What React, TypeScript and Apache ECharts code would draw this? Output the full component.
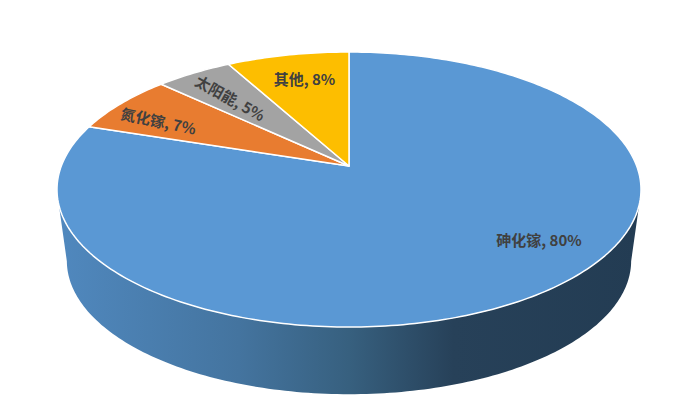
import React, { useEffect, useRef } from "react";
import * as echarts from "echarts";

const names = ["砷化镓", "氮化镓", "太阳能", "其他"];
const values = [80, 7, 5, 8];
const colors = ["#5a98d4", "#e87c30", "#a3a3a3", "#fdbe00"];

// On-screen projection of the tilted disc (perspective view of a circle)
const CX = 349;
const TILT = 0.171;
const TOP = { y0: 166, a: 287.7, b: 133.5 };
const BASE = { y0: 238, a: 278, b: 129.5 };
const FRONT_V = -0.28;
const BASE_EDGE = 100;

const labelLayout = [
  { x: 539, y: 239.5, rot: 0 },
  { x: 158.5, y: 120.5, rot: 12 },
  { x: 230.5, y: 97.5, rot: 29 },
  { x: 304.5, y: 78, rot: 0 },
];

const project = (p: { y0: number; a: number; b: number }, deg: number) => {
  const t = (deg * Math.PI) / 180;
  const u = Math.sin(t);
  const v = Math.cos(t);
  const w = 1 + TILT * v;
  return [CX + (p.a * u) / w, p.y0 - (p.b * v) / w];
};

const rim = (p: typeof TOP, from: number, to: number) => {
  const n = Math.max(2, Math.ceil(Math.abs(to - from)));
  const pts: number[][] = [];
  for (let i = 0; i <= n; i++) pts.push(project(p, from + ((to - from) * i) / n));
  return pts;
};

const total = values.reduce((a, b) => a + b, 0);
const starts = values.map((_, i) => values.slice(0, i).reduce((a, b) => a + b, 0));
const seriesData = values.map((v, i) => [v, starts[i]]);

const frontEdge = (Math.acos(FRONT_V) * 180) / Math.PI;

const renderWall = (_params: any, api: any) => {
  const value = api.value(0);
  const start = api.value(1);
  const a0 = (start / total) * 360;
  const a1 = ((start + value) / total) * 360;
  const from = Math.max(a0, frontEdge);
  const to = Math.min(a1, 360 - frontEdge);
  if (to <= from) return { type: "group", children: [] };
  const baseFrom = Math.max(a0, BASE_EDGE);
  const baseTo = Math.min(a1, 360 - BASE_EDGE);
  const points = [...rim(TOP, from, to), ...rim(BASE, baseTo, baseFrom)];
  return {
    type: "polygon",
    shape: { points },
    style: {
      fill: new echarts.graphic.LinearGradient(0, 0, 1, 0, [
        { offset: 0, color: "#5088be" },
        { offset: 0.31, color: "#44749f" },
        { offset: 0.5, color: "#37607f" },
        { offset: 0.68, color: "#274159" },
        { offset: 1, color: "#233c53" },
      ]),
    },
  };
};

const renderTop = (params: any, api: any) => {
  const i = params.dataIndex;
  const value = api.value(0);
  const start = api.value(1);
  const a0 = (start / total) * 360;
  const a1 = ((start + value) / total) * 360;
  const apex = [CX, TOP.y0];
  const lay = labelLayout[i];
  return {
    type: "group",
    children: [
      {
        type: "polygon",
        shape: { points: [apex, ...rim(TOP, a0, a1)] },
        style: { fill: colors[i], stroke: "#ffffff", lineWidth: 1.5, lineJoin: "round" },
      },
      {
        type: "text",
        x: lay.x,
        y: lay.y,
        rotation: (-lay.rot * Math.PI) / 180,
        z2: 10,
        style: {
          text: `${names[i]}, ${value}%`,
          fill: "#404040",
          font: 'bold 15px "Noto Sans CJK SC", sans-serif',
          align: "center",
          verticalAlign: "middle",
        },
      },
    ],
  };
};

export default function App() {
  const ref = useRef<HTMLDivElement>(null);
  useEffect(() => {
    document.body.style.margin = "0";
    const chart = echarts.init(ref.current!, undefined, { renderer: "svg" });
    chart.setOption({
      animation: false,
      backgroundColor: "#ffffff",
      series: [
        { type: "custom", coordinateSystem: "none", renderItem: renderWall, data: seriesData, silent: true, z: 1 },
        { type: "custom", coordinateSystem: "none", renderItem: renderTop, data: seriesData, silent: true, z: 2 },
      ],
    });
    return () => chart.dispose();
  }, []);
  return <div ref={ref} style={{ width: 700, height: 418 }} />;
}
